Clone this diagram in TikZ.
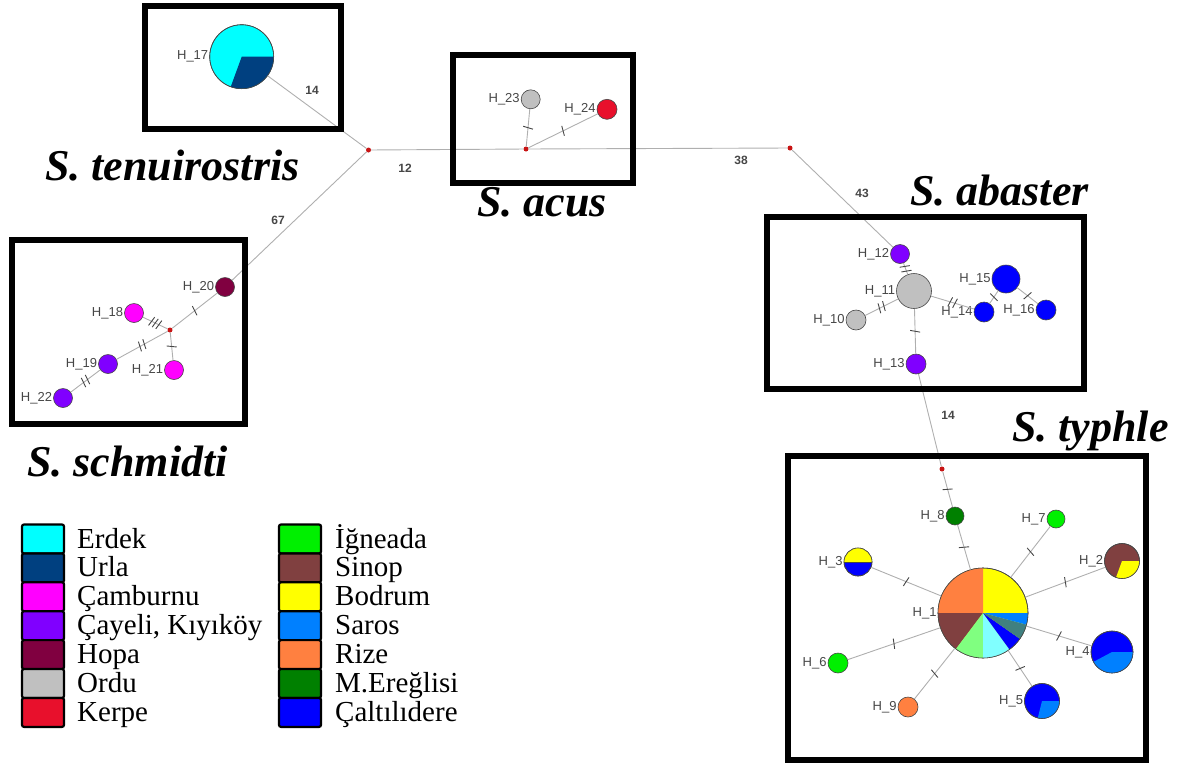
\documentclass[tikz,border=0pt]{standalone}
\usepackage{fontspec}
\setmainfont{Liberation Serif}
\newfontfamily\hapfont{Liberation Sans}
\usetikzlibrary{decorations.markings}

% population colours
\definecolor{erdek}{RGB}{0,255,255}
\definecolor{urla}{RGB}{0,64,128}
\definecolor{camburnu}{RGB}{255,0,255}
\definecolor{cayeli}{RGB}{128,0,255}
\definecolor{hopa}{RGB}{128,0,64}
\definecolor{ordu}{RGB}{192,192,192}
\definecolor{kerpe}{RGB}{232,16,44}
\definecolor{igneada}{RGB}{0,240,0}
\definecolor{sinop}{RGB}{128,64,64}
\definecolor{bodrum}{RGB}{255,255,0}
\definecolor{saros}{RGB}{0,128,255}
\definecolor{rize}{RGB}{255,128,64}
\definecolor{eregli}{RGB}{0,128,0}
\definecolor{caltili}{RGB}{0,0,255}
\definecolor{ltgreen}{RGB}{128,255,128}
\definecolor{ltcyan}{RGB}{128,255,255}
\definecolor{midteal}{RGB}{64,128,128}
\definecolor{edgegray}{RGB}{175,175,175}
\definecolor{labgray}{RGB}{70,70,70}
\definecolor{junc}{RGB}{200,20,20}

\tikzset{
  hap/.style={circle, draw=labgray, line width=0.6pt, inner sep=0pt, minimum size=#1},
  junction/.style={circle, fill=junc, inner sep=0pt, minimum size=5pt},
  link/.style={draw=edgegray, line width=0.9pt},
  tickline/.style={draw=labgray, line width=0.9pt},
  haplabel/.style={font=\hapfont\fontsize{13}{13}\selectfont, text=labgray, inner sep=1pt},
  steplabel/.style={font=\hapfont\bfseries\fontsize{12}{12}\selectfont, text=labgray},
  species/.style={font=\fontsize{44}{44}\selectfont\bfseries\itshape, anchor=base west, inner sep=0pt},
  frame/.style={draw=black, line width=6pt},
  ring/.style={draw=labgray, line width=0.6pt},
  legbox/.style={draw=black, line width=2.2pt, rounded corners=2pt, minimum width=42pt, minimum height=29pt},
  legtext/.style={font=\fontsize{29}{29}\selectfont, anchor=base west, inner sep=0pt},
  onetick/.style={postaction={decorate, decoration={markings,
      mark=at position 0.5 with {\draw[tickline] (-1pt,-5pt) -- (1pt,5pt);}}}},
  twotick/.style={postaction={decorate, decoration={markings,
      mark=at position 0.5 with {\draw[tickline] (-3.5pt,-5pt) -- (-1.5pt,5pt);
                                 \draw[tickline] (1.5pt,-5pt) -- (3.5pt,5pt);}}}},
  threetick/.style={postaction={decorate, decoration={markings,
      mark=at position 0.5 with {\draw[tickline] (-5pt,-5pt) -- (-3pt,5pt);
                                 \draw[tickline] (-1pt,-5pt) -- (1pt,5pt);
                                 \draw[tickline] (3pt,-5pt) -- (5pt,5pt);}}}}
}

\newcommand{\hapslice}[5]{%
  \fill[#5] (#1.center) -- ++(#3:#2pt) arc[start angle=#3, end angle=#4, radius=#2pt] -- cycle;}
\newcommand{\hapring}[2]{\draw[ring] (#1.center) circle[radius=#2pt];}

\begin{document}
\begin{tikzpicture}[x=1pt, y=-1pt]
    \useasboundingbox (0,0) rectangle (1183,769);

    % Median vectors
    \node[junction] (J1) at (368.5,150) {};
    \node[junction] (J2) at (526,149) {};
    \node[junction] (J3) at (790,148) {};
    \node[junction] (J4) at (942,469) {};
    \node[junction] (J5) at (170,330) {};

    % S. tenuirostris
    \node[hap=64pt, fill=erdek, label={[haplabel]left:H\_17}] (H17) at (241.7,56.7) {};
    \hapslice{H17}{32}{250}{360}{urla}
    \hapring{H17}{32}

    % S. acus
    \node[hap=19pt, fill=ordu, label={[haplabel]left:H\_23}] (H23) at (530.7,99.3) {};
    \node[hap=20pt, fill=kerpe, label={[haplabel]left:H\_24}] (H24) at (607,109.3) {};

    % S. schmidti
    \node[hap=19pt, fill=hopa, label={[haplabel]left:H\_20}] (H20) at (225,287) {};
    \node[hap=19pt, fill=camburnu, label={[haplabel]left:H\_18}] (H18) at (134,313) {};
    \node[hap=19pt, fill=camburnu, label={[haplabel]left:H\_21}] (H21) at (174,370) {};
    \node[hap=19pt, fill=cayeli, label={[haplabel]left:H\_19}] (H19) at (108,364) {};
    \node[hap=19pt, fill=cayeli, label={[haplabel]left:H\_22}] (H22) at (63,398) {};

    % S. abaster
    \node[hap=19pt, fill=cayeli, label={[haplabel]left:H\_12}] (H12) at (900,254) {};
    \node[hap=35pt, fill=ordu, label={[haplabel]left:H\_11}] (H11) at (914,291) {};
    \node[hap=20pt, fill=ordu, label={[haplabel]left:H\_10}] (H10) at (856,320) {};
    \node[hap=20pt, fill=cayeli, label={[haplabel]left:H\_13}] (H13) at (916,364) {};
    \node[hap=28pt, fill=caltili, label={[haplabel]left:H\_15}] (H15) at (1006,279) {};
    \node[hap=20pt, fill=caltili, label={[haplabel]left:H\_14}] (H14) at (984,312) {};
    \node[hap=20pt, fill=caltili, label={[haplabel]left:H\_16}] (H16) at (1046,310) {};

    % S. typhle
    \node[hap=90pt, fill=bodrum, label={[haplabel]left:H\_1}] (H1) at (983,613) {};
    \node[hap=35pt, fill=sinop, label={[haplabel]left:H\_2}] (H2) at (1122,561) {};
    \node[hap=28pt, fill=caltili, label={[haplabel]left:H\_3}] (H3) at (858,562) {};
    \node[hap=42pt, fill=caltili, label={[haplabel]left:H\_4}] (H4) at (1112,652) {};
    \node[hap=35pt, fill=caltili, label={[haplabel]left:H\_5}] (H5) at (1042,701) {};
    \node[hap=20pt, fill=igneada, label={[haplabel]left:H\_6}] (H6) at (838,663) {};
    \node[hap=18pt, fill=igneada, label={[haplabel]left:H\_7}] (H7) at (1056,519) {};
    \node[hap=18pt, fill=eregli, label={[haplabel]left:H\_8}] (H8) at (955,516) {};
    \node[hap=20pt, fill=rize, label={[haplabel]left:H\_9}] (H9) at (908,707) {};

    % Pie sectors
    \hapslice{H1}{45}{90}{180}{rize}
    \hapslice{H1}{45}{180}{233}{sinop}
    \hapslice{H1}{45}{233}{270}{ltgreen}
    \hapslice{H1}{45}{270}{306}{ltcyan}
    \hapslice{H1}{45}{306}{325}{caltili}
    \hapslice{H1}{45}{325}{345}{midteal}
    \hapslice{H1}{45}{345}{360}{saros}
    \hapring{H1}{45}
    \hapslice{H2}{17.5}{250}{360}{bodrum}
    \hapring{H2}{17.5}
    \hapslice{H3}{14}{0}{180}{bodrum}
    \draw[labgray, line width=0.8pt] (H3.west) -- (H3.east);
    \hapring{H3}{14}
    \hapslice{H4}{21}{208}{360}{saros}
    \hapring{H4}{21}
    \hapslice{H5}{17.5}{256}{360}{saros}
    \hapring{H5}{17.5}

    % Backbone
    \draw[link] (H17) -- (J1);
    \draw[link] (J1) -- (J2);
    \draw[link] (J2) -- (J3);
    \draw[link] (J1) -- (H20);
    \draw[link] (J3) -- (H12);
    \draw[link] (H13) -- (J4);
    \draw[link, onetick] (J4) -- (H8);
    \draw[link, onetick] (J2) -- (H23);
    \draw[link, onetick] (J2) -- (H24);

    % Mutation steps
    \node[steplabel] (s14a) at (312,90) {14};
    \node[steplabel] (s12) at (405,168) {12};
    \node[steplabel] (s67) at (278,220) {67};
    \node[steplabel] (s38) at (741,160) {38};
    \node[steplabel] (s43) at (862,193) {43};
    \node[steplabel] (s14b) at (948,415) {14};

    % Links inside groups
    \draw[link, onetick] (J5) -- (H20);
    \draw[link, threetick] (J5) -- (H18);
    \draw[link, onetick] (J5) -- (H21);
    \draw[link, twotick] (J5) -- (H19);
    \draw[link, twotick] (H19) -- (H22);

    \draw[link, twotick] (H12) -- (H11);
    \draw[link, twotick] (H11) -- (H10);
    \draw[link, twotick] (H11) -- (H14);
    \draw[link, onetick] (H14) -- (H15);
    \draw[link, onetick] (H15) -- (H16);
    \draw[link, onetick] (H11) -- (H13);

    \foreach \h in {2,...,9} {
        \draw[link, onetick] (H1) -- (H\h);
    }

    % Frames
    \draw[frame] (144.5,6) rectangle (341,129);
    \draw[frame] (453,55) rectangle (633,183);
    \draw[frame] (766.5,217) rectangle (1083.5,389);
    \draw[frame] (12,240) rectangle (245,424);
    \draw[frame] (788,456) rectangle (1146,760);

    % Species names
    \node[species] (sp1) at (45,180) {S.\ tenuirostris};
    \node[species] (sp2) at (477,216.7) {S.\ acus};
    \node[species] (sp3) at (910,205) {S.\ abaster};
    \node[species] (sp4) at (27,476.7) {S.\ schmidti};
    \node[species] (sp5) at (1012,441.7) {S.\ typhle};

    % Legend
    \foreach \col/\name [count=\i] in {erdek/Erdek, urla/Urla, camburnu/Çamburnu,
        cayeli/{Çayeli, Kıyıköy}, hopa/Hopa, ordu/Ordu, kerpe/Kerpe} {
        \node[legbox, fill=\col] (lbl\i) at (43,{539+28.9*(\i-1)}) {};
        \node[legtext] (ltl\i) at (77,{548+28.9*(\i-1)}) {\name};
    }
    \foreach \col/\name [count=\i] in {igneada/İğneada, sinop/Sinop, bodrum/Bodrum,
        saros/Saros, rize/Rize, eregli/M.Ereğlisi, caltili/Çaltılıdere} {
        \node[legbox, fill=\col] (lbr\i) at (300,{539+28.9*(\i-1)}) {};
        \node[legtext] (ltr\i) at (335,{548+28.9*(\i-1)}) {\name};
    }
\end{tikzpicture}
\end{document}
